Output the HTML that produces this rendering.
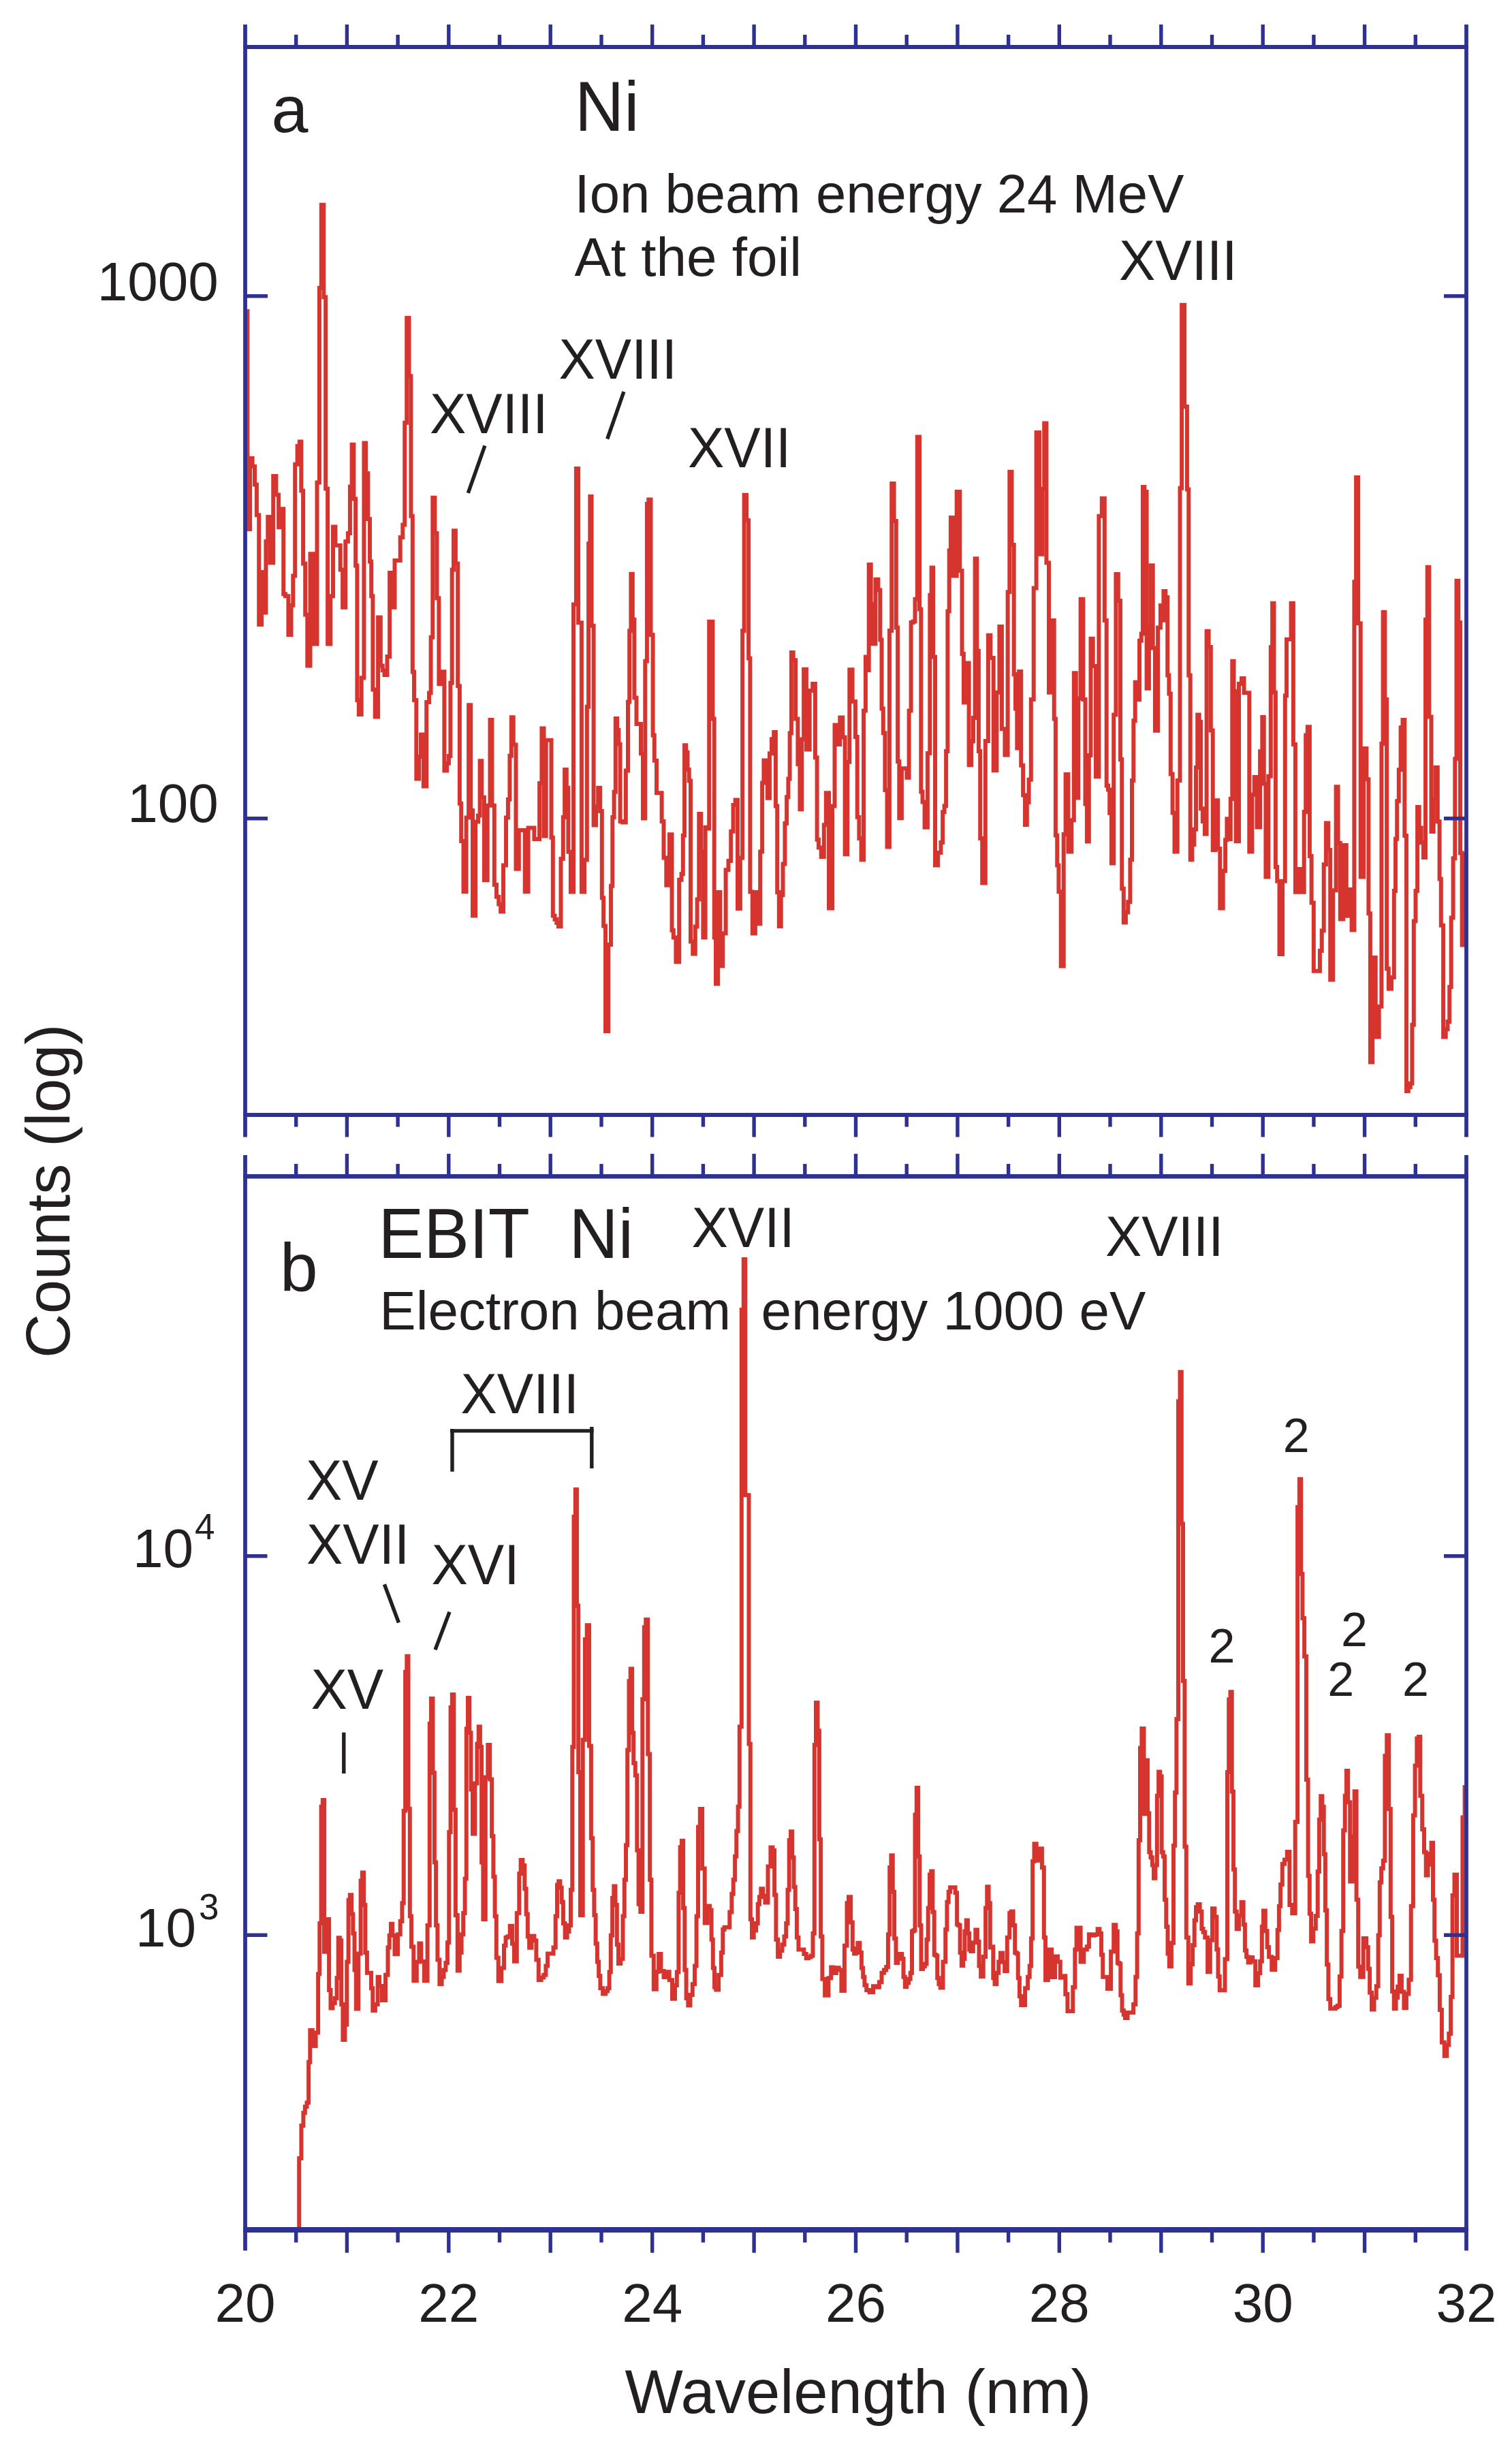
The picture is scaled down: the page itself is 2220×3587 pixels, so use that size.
<!DOCTYPE html>
<html lang="en">
<head>
<meta charset="utf-8">
<title>Ni spectra: beam-foil vs EBIT</title>
<style>
html,body{margin:0;padding:0;background:#fff;}
body{width:2220px;height:3587px;overflow:hidden;}
svg{display:block;}
text{font-family:"Liberation Sans",Arial,Helvetica,sans-serif;fill:#231f20;}
.ax{stroke:#2e3192;fill:none;stroke-linecap:butt;}
.sp{stroke:#d5352e;stroke-width:6;fill:none;stroke-linejoin:miter;stroke-linecap:butt;}
.an{stroke:#231f20;stroke-width:5.4;fill:none;stroke-linecap:butt;}
.t80{font-size:80px;}
.t90{font-size:90px;}
.t100{font-size:100px;}
.t70{font-size:70px;}
.t53{font-size:53px;}
</style>
</head>
<body>
<svg width="2220" height="3587" viewBox="0 0 2220 3587">
<rect x="0" y="0" width="2220" height="3587" fill="#ffffff"/>
<!-- spectra -->
<g id="spectra">
<path class="sp" d="M360.0 457.0H363.4V777.1H367.1V672.8H370.6V684.7H374.0V711.5H376.9V756.2H380.2V917.0H384.0V840.0H387.1V899.4H390.4V794.9H393.3V759.1H396.5V826.2H401.2V699.0H405.4V726.4H409.1V774.1H413.1V747.2H416.2V872.3H419.0V875.2H423.4V931.9H427.5V888.7H430.3V845.5H433.2V681.8H436.6V654.9H439.8V648.4H442.3V720.5H445.1V827.6H448.2V902.5H451.3V977.5H455.5V813.3H460.7V945.6H465.5V708.6H468.9V422.8H471.8V300.8H475.3V436.2H478.1V717.5H481.1V945.6H485.3V875.2H489.0V773.4H492.4V800.8H496.5V800.8H499.7V836.5H503.1V891.7H507.3V794.9H510.9V783.0H513.9V714.5H516.6V652.8H519.4V732.4H522.1V830.6H524.4V1028.1H526.8V1048.9H530.7V995.3H534.4V650.5H537.2V695.1H540.3V762.1H543.0V824.6H545.2V875.2H547.4V1012.6H550.7V1052.5H555.1V906.5H558.8V977.5H561.7V984.2H564.5V990.9H568.5V964.1H572.1V840.9H575.3V891.7H579.5V823.1H583.7V823.1H587.7V788.9H591.3V770.4H594.2V620.7H597.2V466.8H600.5V552.2H603.4V757.7H605.8V986.4H608.0V1028.1H611.3V1143.5H615.1V1111.0H618.0V1078.5H621.8V1154.5H626.2V1031.0H630.0V1017.6H632.6V935.8H635.3V730.8H638.4V782.9H641.5V878.2H644.4V1004.2H647.9V986.2H652.4V1131.6H656.1V1120.8H658.9V1109.9H661.4V1002.8H663.7V836.5H666.0V779.3H668.9V827.5H672.2V1007.2H674.9V1179.8H677.2V1234.9H680.5V1309.3H684.6V1200.6H688.1V1035.3H691.2V1189.9H694.0V1344.4H698.0V1206.5H702.0V1197.6H704.6V1117.2H707.3V1170.8H710.9V1292.3H715.7V1182.7H719.5V1057.1H722.4V1182.7H725.8V1298.9H729.0V1316.7H732.2V1327.6H735.1V1338.5H739.0V1270.5H743.0V1200.6H745.9V1173.8H748.4V1109.7H750.8V1053.2H753.7V1093.4H757.5V1275.7H761.8V1219.0H766.2V1219.0H770.7V1309.3H775.6V1215.4H780.4V1215.4H784.4V1231.9H788.1V1231.9H792.1V1150.0H795.4V1069.6H798.5V1227.5H801.7V1086.8H805.7V1086.8H809.5V1229.8H811.8V1344.4H814.5V1349.7H817.3V1354.9H820.0V1360.2H823.5V1261.0H826.8V1200.0H829.1V1130.0H831.8V1156.8H834.4V1250.7H837.9V1309.6H842.0V887.5H845.9V687.9H849.1V914.3H851.4V914.3H853.9V1309.6H858.0V1262.5H861.8V1037.8H864.1V798.2H866.3V729.1H868.6V918.8H871.6V1211.4H875.1V1184.1H878.2V1156.8H881.2V1191.0H883.8V1318.2H886.1V1359.6H889.0V1514.1H893.3V1387.0H897.0V1300.7H899.3V1200.0H901.6V1162.8H903.8V1055.0H906.1V1071.9H908.4V1092.8H910.6V1206.0H914.2V1207.5H918.8V1131.5H922.0V1030.4H924.2V926.2H926.4V842.8H928.8V909.7H931.4V1024.4H934.5V1063.0H938.1V1063.0H941.0V1106.2H944.0V1201.6H947.3V970.8H949.9V740.1H952.3V733.6H955.5V932.1H958.6V1079.5H960.8V1116.7H964.0V1164.2H968.2V1164.2H971.6V1206.0H974.5V1259.5H978.3V1299.8H982.9V1225.2H986.5V1366.1H988.8V1376.6H992.4V1412.3H997.2V1291.7H1000.5V1283.3H1002.8V1226.8H1005.0V1094.3H1007.3V1104.7H1009.5V1130.0H1011.7V1146.4H1014.0V1382.5H1017.2V1400.4H1020.8V1360.4H1023.6V1320.5H1026.3V1194.9H1029.3V1250.6H1032.4V1376.6H1035.6V1214.8H1038.5V1216.4H1041.2V912.7H1043.9V912.7H1046.4V1055.6H1048.7V1376.6H1051.0V1444.4H1054.0V1310.0H1057.4V1418.2H1061.3V1370.6H1065.6V1277.3H1069.5V1263.9H1073.2V1220.8H1076.5V1182.1H1079.6V1174.6H1083.0V1334.0H1086.9V1259.5H1090.1V926.2H1092.6V726.7H1096.0V763.9H1099.1V966.4H1101.4V1309.6H1104.8V1370.6H1108.9V1310.0H1112.6V1356.3H1116.2V1250.5H1119.1V1149.4H1121.4V1116.6H1123.9V1116.6H1126.8V1171.8H1129.9V1106.2H1133.0V1085.3H1136.2V1074.9H1138.9V1183.6H1141.2V1310.1H1143.8V1359.9H1146.7V1314.2H1149.5V1268.5H1152.4V1208.9H1155.1V1170.2H1157.4V1143.5H1159.6V1076.5H1161.9V958.0H1164.7V969.3H1168.1V1055.6H1171.4V1121.9H1174.4V1188.2H1177.3V1085.4H1180.1V982.7H1183.9V1100.4H1188.7V1013.9H1193.2V1004.1H1196.9V1112.2H1199.6V1232.7H1201.9V1244.6H1205.7V1258.1H1209.8V1211.2H1212.8V1164.2H1217.0V1333.4H1222.0V1183.6H1225.5V1064.5H1228.7V1092.9H1233.3V1053.5H1237.3V1082.4H1240.6V1254.2H1244.2V1118.8H1247.3V983.3H1251.6V1030.0H1255.9V1082.1H1258.7V1199.7H1261.4V1231.0H1264.6V1262.3H1268.0V1043.5H1270.9V964.5H1273.1V984.0H1275.7V829.1H1278.7V887.2H1281.7V945.3H1285.4V850.8H1289.4V866.3H1292.3V939.3H1294.5V1040.5H1296.8V1076.2H1299.4V1159.9H1302.5V1243.5H1305.9V925.9H1309.2V710.0H1312.6V765.1H1315.8V921.4H1318.1V1117.9H1320.3V1201.3H1323.9V1128.2H1328.1V1128.2H1331.4V1141.7H1334.6V1043.5H1337.6V913.9H1340.6V912.4H1343.5V879.8H1346.8V641.6H1350.0V894.6H1352.3V1162.5H1354.5V1177.4H1357.6V1214.7H1361.9V1106.0H1365.3V873.8H1367.6V833.6H1370.1V964.6H1373.0V1270.6H1377.2V1251.9H1381.4V1237.0H1384.1V1192.3H1386.6V1183.3H1389.1V1103.0H1391.4V897.6H1393.7V808.3H1395.9V760.0H1399.6V845.6H1404.7V721.9H1409.3V838.1H1412.5V960.0H1414.9V1031.6H1418.4V973.4H1422.6V1123.3H1426.0V1088.6H1429.0V1053.9H1431.6V820.2H1434.3V955.7H1436.9V1103.0H1439.2V1231.0H1442.2V1296.5H1446.8V1088.1H1450.9V932.7H1454.3V966.0H1458.7V1131.3H1463.4V1016.7H1467.4V919.9H1470.9V1070.2H1475.4V1108.4H1479.6V869.3H1482.3V692.8H1485.5V799.9H1488.7V989.9H1491.0V1040.5H1493.3V1098.6H1496.1V985.9H1499.2V1123.8H1502.1V1167.4H1505.0V1211.1H1507.8V1177.9H1510.6V1144.7H1513.8V1027.0H1517.7V863.4H1521.6V635.0H1526.0V813.8H1530.2V717.7H1533.2V621.6H1536.4V826.2H1540.0V1016.7H1544.2V910.9H1547.7V1055.4H1549.9V1226.5H1552.2V1270.6H1554.4V1309.3H1557.7V1418.5H1561.7V1225.0H1564.6V1137.1H1568.4V1250.4H1573.3V1204.2H1576.8V988.3H1579.8V1171.5H1583.3V1025.6H1586.6V879.7H1590.3V1027.1H1593.5V1180.4H1595.9V1235.5H1598.8V1108.9H1601.5V937.7H1604.7V977.9H1608.9V1140.3H1613.4V757.7H1617.8V731.8H1621.8V911.0H1624.7V1153.6H1627.0V1159.5H1629.2V1193.8H1631.9V1267.6H1635.2V1049.4H1638.4V843.1H1641.8V882.1H1645.0V1114.9H1647.2V1304.8H1649.8V1354.5H1652.9V1339.4H1656.2V1324.2H1659.4V1262.3H1662.0V1146.1H1664.3V1058.3H1666.7V1001.7H1669.7V1027.2H1673.0V940.8H1675.7V930.4H1677.9V715.1H1680.3V721.9H1683.6V1010.8H1686.9V920.5H1689.7V830.2H1692.7V951.4H1695.9V1072.7H1700.1V921.6H1703.9V888.9H1706.1V910.8H1708.4V868.0H1711.3V876.9H1714.2V991.4H1716.4V1018.4H1718.8V1136.5H1721.6V1193.5H1724.5V1250.4H1728.7V1146.0H1732.5V716.8H1735.1V447.7H1739.1V596.9H1742.9V718.4H1745.3V991.4H1747.7V1262.2H1750.4V1240.0H1753.4V1217.7H1756.0V1127.0H1758.2V1049.6H1760.7V1060.0H1763.1V1187.3H1765.8V1205.9H1768.9V1224.4H1771.6V926.7H1774.6V949.9H1777.8V1072.4H1780.7V1247.9H1784.6V1175.3H1788.1V1246.0H1791.3V1333.6H1795.7V1278.7H1799.1V1233.3H1801.4V1202.3H1804.0V1232.0H1806.8V1173.0H1809.3V970.8H1811.5V1015.0H1814.6V1235.2H1819.0V1003.9H1823.0V995.9H1826.5V1017.2H1830.5V1017.2H1834.3V1250.4H1838.4V1166.7H1841.7V1141.0H1845.5V1214.6H1850.1V1103.2H1853.3V1053.1H1855.7V1150.8H1858.4V1287.6H1862.3V1139.7H1865.8V950.2H1868.1V885.8H1870.5V1016.8H1872.9V1273.0H1875.2V1293.7H1878.5V1400.9H1883.1V1293.7H1886.8V1021.6H1889.0V938.8H1891.7V938.8H1895.6V885.8H1898.9V1093.0H1901.9V1309.8H1906.5V1275.9H1911.3V1309.8H1914.7V1192.1H1917.2V1079.4H1919.8V1067.3H1922.9V1257.1H1925.6V1325.4H1928.8V1425.7H1932.2V1425.7H1935.1V1425.7H1937.9V1396.0H1940.7V1366.4H1943.7V1269.2H1946.9V1208.6H1950.2V1248.0H1953.2V1438.4H1957.3V1307.3H1961.6V1155.3H1964.6V1237.8H1967.8V1349.5H1972.1V1241.0H1976.8V1344.7H1980.6V1306.1H1984.6V1365.4H1988.4V854.3H1991.1V701.0H1994.0V915.2H1997.7V1287.6H2002.1V1099.1H2006.4V1144.2H2009.4V1341.3H2011.9V1559.6H2015.2V1406.1H2019.7V1522.5H2024.7V1477.8H2028.4V1092.1H2030.6V898.8H2033.4V1027.0H2036.1V1422.2H2038.8V1451.7H2043.0V1434.9H2046.8V1307.9H2049.0V1231.7H2051.2V1176.2H2053.8V1130.2H2056.6V1068.3H2059.5V1056.9H2062.3V1227.0H2065.0V1601.9H2067.8V1596.3H2070.8V1590.8H2073.4V1504.8H2075.8V1352.4H2078.5V1307.9H2081.1V1185.1H2083.7V1215.6H2086.7V1237.3H2089.9V1259.0H2093.0V909.8H2095.7V832.7H2098.3V1052.4H2101.5V1220.9H2104.7V1173.8H2107.7V1126.7H2110.8V1206.3H2113.6V1290.5H2115.8V1358.7H2119.1V1522.5H2122.7V1511.2H2125.5V1500.0H2128.2V1449.2H2130.7V1347.6H2133.6V1260.3H2136.3V1114.3H2138.5V852.7H2141.3V914.0H2144.0V1252.4H2146.6V1387.6H2149.8V1254.0H2153.0"/>
<path class="sp" d="M439.2 3274V3168.9H442.4V3121.0H445.4V3102.2H447.8V3093.3H450.5V3087.3H453.1V3027.8H455.3V2981.0H458.8V3004.1H463.6V2984.6H467.1V2898.3H469.3V2823.9H471.6V2652.7H473.8V2642.9H476.0V2865.7H479.6V2817.9H483.1V2922.1H485.5V2948.4H488.4V2941.2H491.7V2934.0H494.5V2904.3H496.7V2845.3H498.9V2849.2H501.2V2943.0H503.4V2995.1H506.4V2972.8H509.3V2880.5H511.6V2789.7H513.8V2782.2H516.1V2810.5H518.3V2838.8H520.5V2892.4H522.8V2949.6H526.2V2868.6H529.6V2761.4H531.8V2749.4H534.1V2797.1H536.3V2867.1H538.9V2896.8H542.1V2896.8H545.0V2919.2H547.3V2952.0H550.9V2943.1H554.6V2902.7H557.0V2916.1H560.9V2937.1H566.0V2899.8H569.5V2859.6H571.7V2841.8H573.9V2824.7H576.2V2841.8H579.5V2869.2H584.0V2840.3H587.7V2821.0H590.4V2794.2H592.7V2658.8H595.1V2454.7H597.3V2431.8H599.5V2655.8H601.8V2813.5H604.0V2858.2H607.3V2908.2H611.8V2880.5H615.4V2853.6H618.3V2879.9H622.8V2908.2H627.6V2826.9H630.8V2530.8H633.0V2494.1H635.5V2603.1H637.9V2734.6H640.1V2826.9H642.4V2877.5H645.4V2913.3H648.6V2902.8H651.5V2892.4H654.4V2882.0H657.0V2852.2H659.3V2690.0H661.6V2507.0H663.8V2488.1H666.3V2657.3H668.9V2812.0H671.8V2893.6H674.8V2867.0H677.6V2840.3H680.2V2809.0H682.6V2758.5H684.8V2538.2H687.0V2492.9H689.3V2544.2H691.5V2627.5H694.0V2692.5H697.4V2618.6H700.4V2560.5H702.7V2535.2H704.9V2565.0H707.1V2734.6H709.4V2818.1H712.8V2609.6H716.3V2561.9H719.2V2612.6H722.1V2696.0H724.4V2755.5H726.6V2813.5H728.8V2874.5H731.7V2908.8H736.2V2889.4H740.0V2856.7H742.5V2844.8H745.4V2843.3H748.7V2827.7H752.0V2853.7H754.9V2879.7H758.8V2809.0H762.3V2751.0H764.6V2731.0H767.4V2739.0H770.3V2773.3H772.6V2810.5H774.8V2843.3H777.1V2859.7H780.4V2842.6H784.4V2849.2H787.4V2877.5H790.8V2907.3H794.7V2903.6H798.2V2899.8H801.4V2886.4H804.0V2868.6H806.2V2868.6H808.9V2868.6H812.5V2859.6H815.7V2813.5H818.0V2767.4H820.2V2762.2H822.4V2771.8H824.7V2792.7H826.9V2823.9H829.6V2844.8H832.7V2835.9H835.5V2826.9H838.0V2774.8H840.3V2565.0H842.5V2227.1H844.8V2186.9H847.0V2357.5H849.2V2602.0H852.0V2812.1H855.7V2554.6H858.9V2407.0H861.7V2386.3H865.0V2563.5H867.9V2698.9H870.2V2774.8H872.4V2812.0H874.6V2853.7H876.9V2880.5H879.1V2901.3H881.4V2919.2H885.1V2927.6H889.2V2923.4H892.0V2919.2H894.6V2895.4H896.8V2841.8H899.1V2786.7H901.3V2769.4H903.5V2797.1H905.8V2855.2H908.0V2882.9H911.3V2876.0H914.5V2813.5H916.8V2759.9H919.0V2709.3H921.2V2569.5H923.5V2468.2H925.7V2450.3H928.0V2544.2H930.2V2588.8H932.8V2606.7H935.3V2716.8H937.6V2795.7H940.3V2807.0H943.3V2495.1H945.8V2389.3H948.2V2377.9H951.3V2575.4H954.1V2759.9H956.4V2871.5H959.8V2920.7H963.8V2894.9H967.1V2869.1H970.4V2893.9H974.5V2902.9H979.0V2895.3H982.7V2907.3H987.0V2934.7H991.0V2915.0H993.8V2895.4H996.4V2779.3H998.6V2712.2H1000.9V2702.7H1003.1V2801.6H1005.3V2892.4H1007.6V2934.0H1010.3V2944.5H1013.5V2928.9H1016.8V2913.2H1020.0V2886.4H1022.6V2813.5H1025.0V2682.5H1027.8V2656.0H1031.1V2743.6H1034.7V2823.4H1038.5V2798.6H1042.0V2804.5H1044.6V2847.7H1046.8V2889.4H1049.0V2917.7H1051.3V2921.6H1055.1V2899.8H1058.9V2867.1H1061.3V2832.9H1063.6V2829.8H1067.0V2829.8H1071.3V2807.6H1074.3V2780.8H1076.7V2759.9H1079.1V2725.7H1081.3V2688.5H1083.6V2652.8H1085.8V2535.2H1088.8V1922.9H1091.8V1849.1H1094.2V2195.3H1096.9V2195.3H1099.5V2560.5H1101.8V2818.0H1104.0V2844.8H1106.7V2834.4H1110.0V2823.9H1112.7V2795.7H1115.0V2785.2H1117.3V2773.3H1120.1V2783.5H1123.4V2793.6H1127.5V2740.6H1131.4V2712.5H1134.4V2716.7H1137.1V2782.3H1139.4V2847.7H1142.1V2873.1H1145.3V2864.1H1148.4V2855.2H1151.5V2843.3H1154.2V2823.9H1156.5V2774.8H1158.7V2701.9H1161.0V2689.3H1163.2V2727.2H1165.5V2770.4H1167.7V2803.1H1169.9V2844.8H1172.4V2862.6H1176.2V2862.6H1180.3V2868.9H1183.7V2875.2H1187.1V2873.4H1190.6V2871.5H1193.5V2838.8H1195.8V2562.0H1198.0V2500.0H1200.5V2541.2H1202.9V2700.4H1205.1V2843.3H1207.4V2905.8H1211.1V2929.7H1216.4V2904.3H1220.2V2888.4H1223.4V2896.9H1227.8V2889.3H1231.7V2892.4H1235.4V2923.1H1239.9V2856.7H1243.5V2794.2H1246.0V2785.2H1249.1V2822.4H1251.8V2862.6H1254.1V2868.6H1256.6V2860.7H1259.4V2852.7H1262.3V2867.1H1264.9V2889.4H1267.2V2902.8H1269.4V2914.7H1272.2V2922.1H1276.6V2925.2H1282.0V2916.3H1286.9V2917.8H1290.9V2910.2H1294.5V2896.8H1297.9V2892.4H1301.2V2887.9H1303.9V2840.3H1306.2V2742.1H1308.4V2724.2H1310.8V2777.8H1313.1V2846.2H1315.5V2882.0H1318.3V2875.6H1321.2V2869.1H1324.1V2876.0H1326.5V2902.8H1328.8V2917.2H1331.3V2911.5H1334.1V2905.8H1336.7V2896.8H1339.0V2835.8H1341.3V2834.3H1343.5V2664.6H1345.8V2625.0H1348.0V2725.7H1350.3V2826.9H1352.5V2891.0H1355.1V2887.2H1357.9V2883.5H1360.5V2847.7H1362.7V2801.6H1365.0V2752.4H1367.2V2747.4H1369.4V2807.6H1371.7V2870.1H1373.9V2871.5H1376.2V2904.3H1378.4V2913.2H1380.7V2918.6H1384.5V2880.5H1388.2V2832.9H1390.4V2792.7H1392.7V2777.8H1395.1V2771.2H1398.8V2771.2H1402.6V2779.3H1405.1V2825.4H1407.3V2826.9H1409.6V2867.1H1411.8V2885.9H1414.1V2876.0H1416.4V2835.8H1418.7V2819.4H1420.9V2838.8H1423.2V2862.6H1425.4V2865.1H1428.8V2852.2H1432.3V2833.4H1434.9V2850.7H1437.5V2886.4H1440.1V2902.0H1443.7V2873.0H1447.1V2801.6H1449.3V2770.3H1451.6V2794.2H1453.8V2859.6H1456.0V2858.2H1458.3V2904.3H1460.5V2913.3H1463.3V2896.8H1466.2V2880.5H1469.0V2867.6H1472.1V2880.8H1475.1V2893.9H1478.8V2844.8H1482.2V2809.0H1484.7V2806.6H1487.6V2826.9H1490.2V2867.1H1492.5V2868.6H1494.7V2904.3H1496.9V2931.1H1499.2V2943.9H1501.4V2943.9H1505.1V2919.2H1509.1V2902.8H1511.7V2886.4H1513.9V2846.2H1516.1V2733.1H1518.5V2707.2H1521.7V2731.7H1525.9V2714.3H1529.9V2742.1H1532.8V2844.8H1535.0V2907.3H1538.8V2862.5H1544.0V2902.9H1549.1V2872.4H1553.1V2880.5H1556.8V2903.8H1561.0V2901.2H1564.3V2928.1H1567.4V2952.9H1571.2V2952.9H1575.3V2917.7H1578.3V2862.6H1580.6V2830.4H1583.0V2830.4H1586.6V2880.6H1591.3V2862.6H1595.8V2858.2H1598.9V2840.3H1602.4V2841.8H1606.0V2841.0H1608.8V2840.3H1611.6V2832.2H1614.4V2838.8H1617.0V2870.1H1619.2V2902.8H1621.8V2902.7H1625.9V2920.1H1631.1V2865.6H1635.2V2826.2H1638.2V2835.8H1640.8V2882.0H1643.1V2883.5H1645.3V2929.6H1647.5V2951.9H1649.8V2957.9H1652.0V2963.0H1655.6V2955.0H1660.1V2955.0H1664.1V2943.0H1667.3V2902.8H1669.6V2838.8H1671.8V2701.9H1674.0V2566.4H1676.3V2538.1H1679.5V2663.2H1682.8V2584.4H1685.0V2662.2H1687.3V2719.4H1689.5V2727.3H1691.8V2738.4H1694.0V2757.7H1696.4V2738.4H1698.8V2636.8H1701.1V2601.6H1703.3V2608.3H1705.6V2719.4H1707.8V2725.7H1710.0V2789.2H1712.3V2828.9H1714.5V2868.6H1716.8V2887.3H1719.9V2852.7H1723.0V2709.8H1725.2V2632.1H1727.4V2524.1H1730.0V2057.5H1732.5V2014.6H1734.8V2237.6H1737.0V2467.9H1739.4V2711.4H1741.8V2844.8H1744.8V2912.3H1748.2V2884.1H1751.1V2855.9H1753.7V2819.4H1756.0V2800.3H1758.6V2795.9H1761.6V2806.7H1764.4V2832.1H1766.6V2836.8H1769.3V2844.8H1773.1V2895.2H1776.8V2848.7H1780.0V2802.3H1783.4V2814.6H1786.3V2862.2H1788.5V2901.9H1790.8V2922.2H1794.1V2922.2H1798.5V2876.5H1802.0V2601.9H1804.2V2495.3H1806.5V2484.2H1808.7V2630.5H1811.0V2744.8H1813.2V2806.7H1815.7V2832.3H1819.0V2812.7H1822.6V2793.1H1825.6V2825.7H1827.9V2863.8H1830.1V2873.3H1832.6V2881.5H1835.9V2874.0H1839.2V2879.7H1843.2V2914.9H1847.2V2897.3H1850.2V2879.7H1852.8V2828.9H1855.0V2805.4H1857.8V2835.2H1860.6V2859.0H1863.1V2873.3H1867.2V2892.0H1872.2V2874.9H1875.7V2833.7H1877.9V2798.7H1880.1V2767.0H1882.8V2736.8H1886.0V2730.5H1889.8V2719.1H1893.4V2797.1H1897.3V2809.2H1901.7V2674.9H1905.1V2212.9H1907.9V2171.8H1910.2V2310.9H1912.4V2375.9H1915.1V2431.9H1918.0V2613.0H1920.6V2754.3H1922.8V2809.8H1925.1V2850.4H1928.2V2831.7H1931.8V2813.0H1934.7V2747.9H1936.9V2671.7H1939.2V2637.2H1941.4V2652.7H1943.7V2722.5H1945.9V2805.1H1948.1V2884.4H1950.4V2935.2H1953.2V2949.2H1957.1V2949.2H1960.9V2947.1H1963.8V2945.0H1966.9V2901.9H1969.6V2835.2H1972.2V2687.6H1974.7V2636.8H1976.9V2600.0H1979.2V2646.3H1982.2V2762.5H1985.6V2696.3H1988.7V2630.2H1991.6V2789.2H1994.2V2887.6H1997.2V2902.8H2001.7V2846.1H2006.1V2859.0H2008.8V2890.8H2011.1V2925.7H2014.0V2950.4H2017.5V2933.3H2020.8V2916.2H2023.6V2841.6H2025.8V2763.8H2028.1V2743.2H2030.8V2732.1H2033.4V2578.1H2036.2V2547.7H2039.2V2655.9H2041.8V2814.6H2044.1V2924.1H2046.7V2949.2H2049.6V2933.1H2052.2V2917.1H2054.9V2901.0H2057.9V2924.6H2061.4V2948.2H2064.9V2927.4H2068.4V2906.7H2071.7V2798.7H2074.9V2665.4H2077.6V2592.4H2080.3V2552.4H2083.0V2549.9H2085.3V2636.8H2088.2V2686.0H2091.0V2719.4H2093.7V2753.6H2096.5V2737.7H2099.0V2721.7H2101.6V2705.8H2104.0V2789.2H2106.2V2849.5H2108.6V2874.9H2111.2V2900.3H2113.9V2951.1H2116.9V2998.7H2120.7V3018.7H2124.3V3002.4H2127.3V2986.0H2130.1V2932.1H2132.6V2782.9H2135.5V2752.4H2139.0V2871.4H2143.2V2871.4H2147.4V2668.6H2150.6V2624.1H2153.0"/>
</g>
<!-- axes -->
<g id="axes" class="ax">
<path d="M357.1 69.0L2155.9 69.0" stroke-width="5.8"/>
<path d="M357.1 1637.0L2155.9 1637.0" stroke-width="5.8"/>
<path d="M360.0 36.0L360.0 1669.5" stroke-width="5.8"/>
<path d="M2153.0 36.0L2153.0 1669.5" stroke-width="5.8"/>
<path d="M434.7 69.0L434.7 51.0" stroke-width="5.4"/>
<path d="M434.7 1637.0L434.7 1654.5" stroke-width="5.4"/>
<path d="M509.4 69.0L509.4 36.0" stroke-width="5.4"/>
<path d="M509.4 1637.0L509.4 1669.5" stroke-width="5.4"/>
<path d="M584.1 69.0L584.1 51.0" stroke-width="5.4"/>
<path d="M584.1 1637.0L584.1 1654.5" stroke-width="5.4"/>
<path d="M658.8 69.0L658.8 36.0" stroke-width="5.4"/>
<path d="M658.8 1637.0L658.8 1669.5" stroke-width="5.4"/>
<path d="M733.5 69.0L733.5 51.0" stroke-width="5.4"/>
<path d="M733.5 1637.0L733.5 1654.5" stroke-width="5.4"/>
<path d="M808.2 69.0L808.2 36.0" stroke-width="5.4"/>
<path d="M808.2 1637.0L808.2 1669.5" stroke-width="5.4"/>
<path d="M883.0 69.0L883.0 51.0" stroke-width="5.4"/>
<path d="M883.0 1637.0L883.0 1654.5" stroke-width="5.4"/>
<path d="M957.7 69.0L957.7 36.0" stroke-width="5.4"/>
<path d="M957.7 1637.0L957.7 1669.5" stroke-width="5.4"/>
<path d="M1032.4 69.0L1032.4 51.0" stroke-width="5.4"/>
<path d="M1032.4 1637.0L1032.4 1654.5" stroke-width="5.4"/>
<path d="M1107.1 69.0L1107.1 36.0" stroke-width="5.4"/>
<path d="M1107.1 1637.0L1107.1 1669.5" stroke-width="5.4"/>
<path d="M1181.8 69.0L1181.8 51.0" stroke-width="5.4"/>
<path d="M1181.8 1637.0L1181.8 1654.5" stroke-width="5.4"/>
<path d="M1256.5 69.0L1256.5 36.0" stroke-width="5.4"/>
<path d="M1256.5 1637.0L1256.5 1669.5" stroke-width="5.4"/>
<path d="M1331.2 69.0L1331.2 51.0" stroke-width="5.4"/>
<path d="M1331.2 1637.0L1331.2 1654.5" stroke-width="5.4"/>
<path d="M1405.9 69.0L1405.9 36.0" stroke-width="5.4"/>
<path d="M1405.9 1637.0L1405.9 1669.5" stroke-width="5.4"/>
<path d="M1480.6 69.0L1480.6 51.0" stroke-width="5.4"/>
<path d="M1480.6 1637.0L1480.6 1654.5" stroke-width="5.4"/>
<path d="M1555.3 69.0L1555.3 36.0" stroke-width="5.4"/>
<path d="M1555.3 1637.0L1555.3 1669.5" stroke-width="5.4"/>
<path d="M1630.0 69.0L1630.0 51.0" stroke-width="5.4"/>
<path d="M1630.0 1637.0L1630.0 1654.5" stroke-width="5.4"/>
<path d="M1704.8 69.0L1704.8 36.0" stroke-width="5.4"/>
<path d="M1704.8 1637.0L1704.8 1669.5" stroke-width="5.4"/>
<path d="M1779.5 69.0L1779.5 51.0" stroke-width="5.4"/>
<path d="M1779.5 1637.0L1779.5 1654.5" stroke-width="5.4"/>
<path d="M1854.2 69.0L1854.2 36.0" stroke-width="5.4"/>
<path d="M1854.2 1637.0L1854.2 1669.5" stroke-width="5.4"/>
<path d="M1928.9 69.0L1928.9 51.0" stroke-width="5.4"/>
<path d="M1928.9 1637.0L1928.9 1654.5" stroke-width="5.4"/>
<path d="M2003.6 69.0L2003.6 36.0" stroke-width="5.4"/>
<path d="M2003.6 1637.0L2003.6 1669.5" stroke-width="5.4"/>
<path d="M2078.3 69.0L2078.3 51.0" stroke-width="5.4"/>
<path d="M2078.3 1637.0L2078.3 1654.5" stroke-width="5.4"/>
<path d="M360.0 434.7L393.0 434.7" stroke-width="5.4"/>
<path d="M2153.0 434.7L2120.0 434.7" stroke-width="5.4"/>
<path d="M360.0 1201.8L393.0 1201.8" stroke-width="5.4"/>
<path d="M2153.0 1201.8L2120.0 1201.8" stroke-width="5.4"/>
<path d="M357.1 1727.3L2155.9 1727.3" stroke-width="6.4"/>
<path d="M357.1 3274.0L2155.9 3274.0" stroke-width="8"/>
<path d="M360.0 1696.0L360.0 3304.5" stroke-width="5.8"/>
<path d="M2153.0 1696.0L2153.0 3304.5" stroke-width="5.8"/>
<path d="M434.7 1727.3L434.7 1708.9" stroke-width="5.4"/>
<path d="M434.7 3274.0L434.7 3292.6" stroke-width="5.4"/>
<path d="M509.4 1727.3L509.4 1694.1" stroke-width="5.4"/>
<path d="M509.4 3274.0L509.4 3307.7" stroke-width="5.4"/>
<path d="M584.1 1727.3L584.1 1708.9" stroke-width="5.4"/>
<path d="M584.1 3274.0L584.1 3292.6" stroke-width="5.4"/>
<path d="M658.8 1727.3L658.8 1694.1" stroke-width="5.4"/>
<path d="M658.8 3274.0L658.8 3307.7" stroke-width="5.4"/>
<path d="M733.5 1727.3L733.5 1708.9" stroke-width="5.4"/>
<path d="M733.5 3274.0L733.5 3292.6" stroke-width="5.4"/>
<path d="M808.2 1727.3L808.2 1694.1" stroke-width="5.4"/>
<path d="M808.2 3274.0L808.2 3307.7" stroke-width="5.4"/>
<path d="M883.0 1727.3L883.0 1708.9" stroke-width="5.4"/>
<path d="M883.0 3274.0L883.0 3292.6" stroke-width="5.4"/>
<path d="M957.7 1727.3L957.7 1694.1" stroke-width="5.4"/>
<path d="M957.7 3274.0L957.7 3307.7" stroke-width="5.4"/>
<path d="M1032.4 1727.3L1032.4 1708.9" stroke-width="5.4"/>
<path d="M1032.4 3274.0L1032.4 3292.6" stroke-width="5.4"/>
<path d="M1107.1 1727.3L1107.1 1694.1" stroke-width="5.4"/>
<path d="M1107.1 3274.0L1107.1 3307.7" stroke-width="5.4"/>
<path d="M1181.8 1727.3L1181.8 1708.9" stroke-width="5.4"/>
<path d="M1181.8 3274.0L1181.8 3292.6" stroke-width="5.4"/>
<path d="M1256.5 1727.3L1256.5 1694.1" stroke-width="5.4"/>
<path d="M1256.5 3274.0L1256.5 3307.7" stroke-width="5.4"/>
<path d="M1331.2 1727.3L1331.2 1708.9" stroke-width="5.4"/>
<path d="M1331.2 3274.0L1331.2 3292.6" stroke-width="5.4"/>
<path d="M1405.9 1727.3L1405.9 1694.1" stroke-width="5.4"/>
<path d="M1405.9 3274.0L1405.9 3307.7" stroke-width="5.4"/>
<path d="M1480.6 1727.3L1480.6 1708.9" stroke-width="5.4"/>
<path d="M1480.6 3274.0L1480.6 3292.6" stroke-width="5.4"/>
<path d="M1555.3 1727.3L1555.3 1694.1" stroke-width="5.4"/>
<path d="M1555.3 3274.0L1555.3 3307.7" stroke-width="5.4"/>
<path d="M1630.0 1727.3L1630.0 1708.9" stroke-width="5.4"/>
<path d="M1630.0 3274.0L1630.0 3292.6" stroke-width="5.4"/>
<path d="M1704.8 1727.3L1704.8 1694.1" stroke-width="5.4"/>
<path d="M1704.8 3274.0L1704.8 3307.7" stroke-width="5.4"/>
<path d="M1779.5 1727.3L1779.5 1708.9" stroke-width="5.4"/>
<path d="M1779.5 3274.0L1779.5 3292.6" stroke-width="5.4"/>
<path d="M1854.2 1727.3L1854.2 1694.1" stroke-width="5.4"/>
<path d="M1854.2 3274.0L1854.2 3307.7" stroke-width="5.4"/>
<path d="M1928.9 1727.3L1928.9 1708.9" stroke-width="5.4"/>
<path d="M1928.9 3274.0L1928.9 3292.6" stroke-width="5.4"/>
<path d="M2003.6 1727.3L2003.6 1694.1" stroke-width="5.4"/>
<path d="M2003.6 3274.0L2003.6 3307.7" stroke-width="5.4"/>
<path d="M2078.3 1727.3L2078.3 1708.9" stroke-width="5.4"/>
<path d="M2078.3 3274.0L2078.3 3292.6" stroke-width="5.4"/>
<path d="M360.0 2284.7L392.5 2284.7" stroke-width="5.4"/>
<path d="M2153.0 2284.7L2120.0 2284.7" stroke-width="5.4"/>
<path d="M360.0 2841.3L392.5 2841.3" stroke-width="5.4"/>
<path d="M2153.0 2841.3L2120.0 2841.3" stroke-width="5.4"/>
</g>
<!-- tick labels -->
<g id="ticklabels" class="t80">
<text x="320.8" y="441" text-anchor="end">1000</text>
<text x="320.8" y="1207" text-anchor="end">100</text>
<text x="195" y="2300.5">10<tspan x="286" y="2259.5" class="t53">4</tspan></text>
<text x="199" y="2857.5">10<tspan x="292" y="2817.5" class="t53">3</tspan></text>
<text x="360" y="3408.5" text-anchor="middle">20</text>
<text x="658.8" y="3408.5" text-anchor="middle">22</text>
<text x="957.7" y="3408.5" text-anchor="middle">24</text>
<text x="1256.5" y="3408.5" text-anchor="middle">26</text>
<text x="1555.3" y="3408.5" text-anchor="middle">28</text>
<text x="1854.2" y="3408.5" text-anchor="middle">30</text>
<text x="2153" y="3408.5" text-anchor="middle">32</text>
</g>
<g id="axislabels" class="t90">
<text x="1260" y="3543" text-anchor="middle" style="font-size:90.4px">Wavelength (nm)</text>
<text transform="translate(102,1994) rotate(-90)">Counts (log)</text>
</g>
<!-- annotations panel a -->
<g id="ann-a" class="t80">
<text x="398.5" y="193.5" class="t100" style="font-size:97px">a</text>
<text transform="translate(844,192) scale(1,1.035)" class="t100">Ni</text>
<text x="843.5" y="311.5" style="font-size:79.7px">Ion beam energy 24 MeV</text>
<text x="843.5" y="405">At the foil</text>
<text transform="translate(1643,411) scale(1,1.035)">XVIII</text>
<text transform="translate(631,635.5) scale(1,1.035)">XVIII</text>
<text transform="translate(820.5,556) scale(1,1.035)">XVIII</text>
<text transform="translate(1010,685.5) scale(1,1.035)">XVII</text>
<path class="an" d="M711.9 654.4L687.3 723.9"/>
<path class="an" d="M915.9 575.1L891.7 644.5"/>
</g>
<!-- annotations panel b -->
<g id="ann-b" class="t80">
<text x="411" y="1896" class="t100">b</text>
<text transform="translate(555.5,1847) scale(1,1.035)" class="t100" xml:space="preserve" style="white-space:pre;word-spacing:2px">EBIT  Ni</text>
<text x="557.3" y="1952" xml:space="preserve" style="white-space:pre">Electron beam  energy 1000 eV</text>
<text transform="translate(1015.5,1830.5) scale(1,1.035)">XVII</text>
<text transform="translate(1623,1844) scale(1,1.035)">XVIII</text>
<text transform="translate(676.5,2075) scale(1,1.035)">XVIII</text>
<path class="an" d="M664 2160.8V2098M661 2100.9H871.8M868.8 2094.9V2156" stroke-width="5.8"/>
<text transform="translate(449,2201.5) scale(1,1.035)">XV</text>
<text transform="translate(450,2295.5) scale(1,1.035)">XVII</text>
<text transform="translate(633.5,2325.5) scale(1,1.035)">XVI</text>
<text transform="translate(456.5,2509) scale(1,1.035)">XV</text>
<path class="an" d="M564.4 2326.2L585.4 2382.5"/>
<path class="an" d="M660 2366.7L639 2422.2"/>
<path class="an" d="M504.8 2543.7V2604"/>
</g>
<g id="twos" class="t70">
<text x="1883.7" y="2132">2</text>
<text x="1774.6" y="2441">2</text>
<text x="1969" y="2416.5">2</text>
<text x="1949.2" y="2490">2</text>
<text x="2059" y="2490">2</text>
</g>
</svg>
</body>
</html>
